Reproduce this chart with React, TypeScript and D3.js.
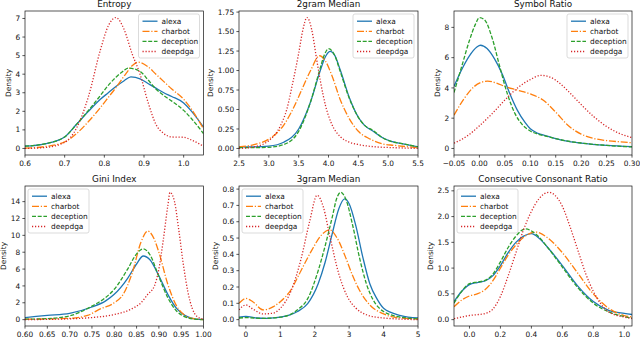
import * as d3 from "d3";

type Pt = [number, number];

const seriesNames = ["alexa", "charbot", "deception", "deepdga"];
const seriesColors = ["#1f77b4", "#ff7f0e", "#2ca02c", "#d62728"];
const seriesDashes = ["", "7,1.8,1.2,1.8", "4,1.7", "1.2,1.8"];

const panelTitles = [
  "Entropy",
  "2gram Median",
  "Symbol Ratio",
  "Gini Index",
  "3gram Median",
  "Consecutive Consonant Ratio",
];

const panelXDomains: Pt[] = [
  [0.6, 1.05],
  [2.5, 5.5],
  [-0.05, 0.3],
  [0.6, 1.0],
  [-0.2, 5],
  [-0.1, 1.05],
];
const panelXTicks = [
  [0.6, 0.7, 0.8, 0.9, 1.0],
  [2.5, 3.0, 3.5, 4.0, 4.5, 5.0, 5.5],
  [-0.05, 0.0, 0.05, 0.1, 0.15, 0.2, 0.25, 0.3],
  [0.6, 0.65, 0.7, 0.75, 0.8, 0.85, 0.9, 0.95, 1.0],
  [0, 1, 2, 3, 4, 5],
  [0.0, 0.2, 0.4, 0.6, 0.8, 1.0],
];
const panelXFormats = [".1f", ".1f", ".2f", ".2f", "d", ".1f"];
const panelYTicks = [
  [0, 1, 2, 3, 4, 5, 6, 7],
  [0, 0.25, 0.5, 0.75, 1.0, 1.25, 1.5, 1.75],
  [0, 2, 4, 6, 8],
  [0, 2, 4, 6, 8, 10, 12, 14],
  [0, 0.1, 0.2, 0.3, 0.4, 0.5, 0.6, 0.7, 0.8],
  [0, 0.5, 1.0, 1.5, 2.0, 2.5],
];
const panelYFormats = ["d", ".2f", "d", "d", ".1f", ".1f"];

// Entropy
const entropyAlexa: Pt[] = [[0.6, 0.12], [0.65, 0.25], [0.7, 0.62], [0.73, 1.3], [0.76, 2.0], [0.79, 2.65], [0.81, 3.0], [0.83, 3.35], [0.85, 3.65], [0.867, 3.85], [0.89, 3.75], [0.91, 3.5], [0.93, 3.25], [0.95, 3.0], [0.97, 2.8], [1.0, 2.45], [1.02, 2.0], [1.05, 1.15]];
const entropyCharbot: Pt[] = [[0.6, 0.02], [0.65, 0.1], [0.7, 0.35], [0.73, 0.8], [0.76, 1.45], [0.79, 2.2], [0.81, 2.75], [0.83, 3.3], [0.85, 3.9], [0.87, 4.45], [0.885, 4.65], [0.91, 4.4], [0.93, 4.0], [0.95, 3.6], [0.97, 3.2], [1.0, 2.65], [1.02, 2.1], [1.05, 1.05]];
const entropyDeception: Pt[] = [[0.6, 0.12], [0.65, 0.25], [0.7, 0.62], [0.73, 1.3], [0.76, 2.05], [0.79, 2.85], [0.81, 3.4], [0.83, 3.85], [0.85, 4.2], [0.86, 4.33], [0.89, 4.15], [0.91, 3.7], [0.93, 3.2], [0.95, 2.85], [0.97, 2.55], [1.0, 2.05], [1.02, 1.6], [1.05, 0.8]];
const entropyDeepdga: Pt[] = [[0.6, 0.0], [0.65, 0.05], [0.7, 0.33], [0.73, 1.1], [0.76, 2.8], [0.79, 5.3], [0.81, 6.6], [0.829, 7.05], [0.85, 6.4], [0.87, 5.1], [0.89, 4.0], [0.91, 2.5], [0.93, 1.3], [0.95, 0.8], [0.97, 0.62], [1.0, 0.6], [1.02, 0.45], [1.05, 0.12]];

// 2gram Median
const bigramAlexa: Pt[] = [[2.5, 0.02], [2.75, 0.02], [3.0, 0.03], [3.25, 0.08], [3.5, 0.25], [3.7, 0.6], [3.85, 0.97], [3.95, 1.18], [4.03, 1.245], [4.1, 1.2], [4.2, 1.0], [4.35, 0.65], [4.5, 0.4], [4.6, 0.3], [4.75, 0.22], [4.9, 0.14], [5.05, 0.09], [5.25, 0.06], [5.5, 0.02]];
const bigramCharbot: Pt[] = [[2.5, 0.02], [2.75, 0.05], [3.0, 0.12], [3.25, 0.3], [3.4, 0.5], [3.55, 0.75], [3.7, 1.0], [3.85, 1.19], [3.95, 1.12], [4.05, 0.95], [4.2, 0.62], [4.35, 0.38], [4.5, 0.22], [4.7, 0.12], [4.9, 0.06], [5.1, 0.04], [5.5, 0.01]];
const bigramDeception: Pt[] = [[2.5, 0.01], [2.75, 0.01], [3.0, 0.015], [3.25, 0.05], [3.5, 0.22], [3.7, 0.6], [3.85, 1.0], [3.93, 1.2], [4.0, 1.28], [4.1, 1.2], [4.2, 0.98], [4.35, 0.64], [4.5, 0.4], [4.6, 0.3], [4.75, 0.23], [4.9, 0.14], [5.05, 0.09], [5.25, 0.06], [5.5, 0.02]];
const bigramDeepdga: Pt[] = [[2.5, 0.0], [2.75, 0.02], [3.0, 0.1], [3.2, 0.3], [3.3, 0.5], [3.4, 0.84], [3.5, 1.22], [3.57, 1.52], [3.64, 1.68], [3.72, 1.52], [3.8, 1.15], [3.87, 0.84], [3.95, 0.55], [4.05, 0.32], [4.2, 0.15], [4.35, 0.08], [4.5, 0.05], [4.8, 0.02], [5.1, 0.01], [5.5, 0.0]];

// Symbol Ratio
const symbolAlexa: Pt[] = [[-0.05, 4.1], [-0.035, 5.2], [-0.02, 6.1], [-0.005, 6.7], [0.002, 6.82], [0.015, 6.6], [0.03, 5.9], [0.045, 4.9], [0.06, 3.6], [0.075, 2.5], [0.09, 1.7], [0.1, 1.3], [0.115, 1.0], [0.13, 0.85], [0.15, 0.65], [0.175, 0.47], [0.2, 0.35], [0.25, 0.2], [0.3, 0.12]];
const symbolCharbot: Pt[] = [[-0.05, 2.2], [-0.03, 3.3], [-0.01, 4.1], [0.016, 4.45], [0.035, 4.3], [0.05, 4.1], [0.075, 3.85], [0.1, 3.6], [0.125, 3.2], [0.15, 2.4], [0.175, 1.5], [0.2, 0.95], [0.225, 0.66], [0.25, 0.52], [0.275, 0.44], [0.3, 0.38]];
const symbolDeception: Pt[] = [[-0.05, 3.7], [-0.035, 5.4], [-0.02, 7.1], [-0.008, 8.2], [0.0, 8.65], [0.01, 8.5], [0.025, 7.3], [0.04, 5.4], [0.055, 3.6], [0.07, 2.3], [0.085, 1.55], [0.1, 1.15], [0.115, 0.95], [0.13, 0.82], [0.15, 0.65], [0.175, 0.48], [0.2, 0.36], [0.25, 0.2], [0.3, 0.1]];
const symbolDeepdga: Pt[] = [[-0.05, 0.35], [-0.025, 0.8], [0.0, 1.5], [0.025, 2.3], [0.05, 3.2], [0.075, 4.0], [0.1, 4.55], [0.121, 4.83], [0.14, 4.7], [0.16, 4.25], [0.18, 3.6], [0.2, 2.9], [0.225, 2.1], [0.25, 1.45], [0.275, 1.0], [0.3, 0.72]];

// Gini Index
const giniAlexa: Pt[] = [[0.6, 0.25], [0.65, 0.5], [0.7, 0.75], [0.75, 1.5], [0.78, 2.2], [0.8, 3.0], [0.83, 4.9], [0.85, 6.6], [0.865, 7.55], [0.88, 7.1], [0.9, 5.2], [0.92, 3.0], [0.94, 1.3], [0.96, 0.45], [0.98, 0.1], [1.0, 0.02]];
const giniCharbot: Pt[] = [[0.6, 0.05], [0.7, 0.15], [0.74, 0.5], [0.77, 1.3], [0.8, 2.0], [0.82, 3.0], [0.84, 5.5], [0.86, 9.2], [0.875, 10.5], [0.89, 9.5], [0.9, 8.0], [0.92, 4.2], [0.94, 1.6], [0.96, 0.45], [0.98, 0.1], [1.0, 0.0]];
const giniDeception: Pt[] = [[0.6, 0.05], [0.65, 0.12], [0.7, 0.45], [0.75, 1.6], [0.78, 2.6], [0.8, 3.6], [0.83, 6.0], [0.85, 7.8], [0.865, 8.4], [0.88, 7.7], [0.9, 5.1], [0.92, 2.6], [0.94, 1.0], [0.96, 0.3], [0.98, 0.05], [1.0, 0.0]];
const giniDeepdga: Pt[] = [[0.6, 0.0], [0.7, 0.1], [0.75, 0.25], [0.8, 0.6], [0.84, 1.3], [0.86, 2.0], [0.875, 3.0], [0.89, 4.0], [0.9, 6.0], [0.91, 9.5], [0.92, 13.5], [0.925, 15.1], [0.935, 14.0], [0.945, 10.5], [0.955, 6.5], [0.965, 3.3], [0.975, 1.3], [0.985, 0.4], [1.0, 0.05]];

// 3gram Median
const trigramAlexa: Pt[] = [[-0.2, 0.015], [0, 0.02], [0.3, 0.01], [0.6, 0.008], [1.0, 0.015], [1.5, 0.05], [1.8, 0.1], [2.1, 0.22], [2.3, 0.35], [2.5, 0.52], [2.7, 0.68], [2.87, 0.74], [3.0, 0.71], [3.2, 0.57], [3.4, 0.38], [3.6, 0.22], [3.8, 0.13], [4.0, 0.07], [4.5, 0.025], [5.0, 0.01]];
const trigramCharbot: Pt[] = [[-0.2, 0.1], [0, 0.13], [0.2, 0.11], [0.5, 0.06], [0.8, 0.08], [1.0, 0.11], [1.3, 0.18], [1.6, 0.3], [1.9, 0.42], [2.2, 0.52], [2.44, 0.55], [2.65, 0.5], [2.9, 0.38], [3.1, 0.27], [3.3, 0.18], [3.6, 0.09], [4.0, 0.035], [4.5, 0.01], [5.0, 0.005]];
const trigramDeception: Pt[] = [[-0.2, 0.01], [0, 0.012], [0.5, 0.008], [1.0, 0.015], [1.5, 0.06], [1.8, 0.13], [2.1, 0.3], [2.3, 0.45], [2.5, 0.62], [2.65, 0.75], [2.75, 0.78], [2.9, 0.74], [3.1, 0.58], [3.3, 0.38], [3.5, 0.22], [3.7, 0.12], [4.0, 0.05], [4.5, 0.015], [5.0, 0.005]];
const trigramDeepdga: Pt[] = [[-0.2, 0.06], [0, 0.09], [0.2, 0.065], [0.5, 0.035], [0.8, 0.04], [1.0, 0.07], [1.3, 0.17], [1.6, 0.37], [1.85, 0.6], [2.07, 0.762], [2.25, 0.69], [2.45, 0.5], [2.7, 0.28], [2.95, 0.14], [3.2, 0.07], [3.5, 0.03], [4.0, 0.01], [5.0, 0.0]];

// Consecutive Consonant Ratio
const consonantAlexa: Pt[] = [[-0.1, 0.35], [-0.05, 0.55], [0.0, 0.68], [0.05, 0.72], [0.1, 0.75], [0.15, 0.85], [0.2, 1.05], [0.25, 1.3], [0.3, 1.5], [0.35, 1.62], [0.4, 1.67], [0.45, 1.58], [0.5, 1.42], [0.6, 1.05], [0.7, 0.65], [0.8, 0.35], [0.9, 0.18], [1.0, 0.12], [1.05, 0.1]];
const consonantCharbot: Pt[] = [[-0.1, 0.25], [-0.05, 0.38], [0.0, 0.46], [0.05, 0.5], [0.1, 0.58], [0.15, 0.75], [0.2, 1.0], [0.25, 1.25], [0.3, 1.45], [0.35, 1.6], [0.43, 1.7], [0.5, 1.6], [0.6, 1.3], [0.7, 0.9], [0.8, 0.5], [0.9, 0.22], [1.0, 0.08], [1.05, 0.05]];
const consonantDeception: Pt[] = [[-0.1, 0.32], [-0.05, 0.55], [0.0, 0.7], [0.05, 0.73], [0.1, 0.76], [0.15, 0.88], [0.2, 1.12], [0.25, 1.4], [0.3, 1.62], [0.36, 1.76], [0.45, 1.6], [0.5, 1.42], [0.6, 1.02], [0.7, 0.62], [0.8, 0.32], [0.9, 0.15], [1.0, 0.06], [1.05, 0.03]];
const consonantDeepdga: Pt[] = [[-0.1, 0.02], [-0.05, 0.05], [0.0, 0.08], [0.1, 0.12], [0.15, 0.2], [0.2, 0.45], [0.25, 0.85], [0.3, 1.3], [0.35, 1.75], [0.4, 2.1], [0.45, 2.35], [0.514, 2.47], [0.55, 2.42], [0.6, 2.2], [0.65, 1.8], [0.7, 1.35], [0.75, 0.9], [0.8, 0.55], [0.85, 0.3], [0.9, 0.15], [1.0, 0.05], [1.05, 0.02]];

const panelSeries: Pt[][][] = [
  [entropyAlexa, entropyCharbot, entropyDeception, entropyDeepdga],
  [bigramAlexa, bigramCharbot, bigramDeception, bigramDeepdga],
  [symbolAlexa, symbolCharbot, symbolDeception, symbolDeepdga],
  [giniAlexa, giniCharbot, giniDeception, giniDeepdga],
  [trigramAlexa, trigramCharbot, trigramDeception, trigramDeepdga],
  [consonantAlexa, consonantCharbot, consonantDeception, consonantDeepdga],
];

const WIDTH = 640;
const HEIGHT = 338;
const COLS: Pt[] = [[25, 203.5], [239, 418], [454, 632]];
const ROWS: Pt[] = [[11, 155], [186, 326]];
const FONT = "DejaVu Sans, sans-serif";
const TICK_FS = 7.4;
const TITLE_FS = 8.8;
const INK = "#111";
const LINE_W = 1.3;

function labelWidth(s: string) {
  let w = 0;
  for (const ch of s) {
    w += ch === "." ? 0.318 : ch === "\u2212" ? 0.838 : 0.636;
  }
  return w * TICK_FS;
}

function Panel({ idx }: { idx: number }) {
  const [x0, x1] = COLS[idx % 3];
  const [y0, y1] = ROWS[Math.floor(idx / 3)];
  const series = panelSeries[idx];
  const ymax = d3.max(series.flat(), (d) => d[1]) ?? 1;

  const xScale = d3.scaleLinear().domain(panelXDomains[idx]).range([x0, x1]);
  const yScale = d3
    .scaleLinear()
    .domain([-0.05 * ymax, 1.05 * ymax])
    .range([y1, y0]);

  const gen = d3
    .line<Pt>()
    .x((d) => xScale(d[0]))
    .y((d) => yScale(d[1]))
    .curve(d3.curveMonotoneX);

  const fx = d3.format(panelXFormats[idx]);
  const fy = d3.format(panelYFormats[idx]);
  const yLabels = panelYTicks[idx].map((v) => fy(v));
  const maxW = d3.max(yLabels, labelWidth) ?? 0;
  const ylabX = x0 - 5 - maxW - 7;

  const legendW = 61;
  const legendH = 44;
  const onRight = idx < 3;
  const lx = onRight ? x1 - 4 - legendW : x0 + 3;
  const ly = y0 + 3;
  const clipId = `clip-${idx}`;

  return (
    <g>
      <defs>
        <clipPath id={clipId}>
          <rect x={x0} y={y0} width={x1 - x0} height={y1 - y0} />
        </clipPath>
      </defs>
      <g clipPath={`url(#${clipId})`}>
        {series.map((pts, i) => (
          <path
            key={seriesNames[i]}
            d={gen(pts) ?? ""}
            fill="none"
            stroke={seriesColors[i]}
            strokeWidth={LINE_W}
            strokeDasharray={seriesDashes[i] || undefined}
          />
        ))}
      </g>
      <rect x={x0} y={y0} width={x1 - x0} height={y1 - y0} fill="none" stroke={INK} strokeWidth={0.7} />

      {panelXTicks[idx].map((v) => (
        <g key={`x${v}`} transform={`translate(${xScale(v)},${y1})`}>
          <line y2={2.6} stroke={INK} strokeWidth={0.7} />
          <text y={11.2} textAnchor="middle" fontSize={TICK_FS} fontFamily={FONT} fill={INK}>
            {fx(v)}
          </text>
        </g>
      ))}
      {panelYTicks[idx].map((v, i) => (
        <g key={`y${v}`} transform={`translate(${x0},${yScale(v)})`}>
          <line x2={-2.6} stroke={INK} strokeWidth={0.7} />
          <text x={-4.8} dy="0.35em" textAnchor="end" fontSize={TICK_FS} fontFamily={FONT} fill={INK}>
            {yLabels[i]}
          </text>
        </g>
      ))}

      <text
        transform={`translate(${ylabX},${(y0 + y1) / 2}) rotate(-90)`}
        textAnchor="middle"
        dy="0.35em"
        fontSize={TICK_FS}
        fontFamily={FONT}
        fill={INK}
      >
        Density
      </text>
      <text x={(x0 + x1) / 2} y={y0 - 4} textAnchor="middle" fontSize={TITLE_FS} fontFamily={FONT} fill={INK}>
        {panelTitles[idx]}
      </text>

      <rect x={lx} y={ly} width={legendW} height={legendH} rx={2} fill="#fff" fillOpacity={0.85} stroke="#ccc" strokeWidth={0.7} />
      {seriesNames.map((name, i) => {
        const cy = ly + 7.2 + i * 10.1;
        return (
          <g key={name}>
            <line
              x1={lx + 4}
              x2={lx + 19}
              y1={cy}
              y2={cy}
              stroke={seriesColors[i]}
              strokeWidth={LINE_W}
              strokeDasharray={seriesDashes[i] || undefined}
            />
            <text x={lx + 23} y={cy} dy="0.35em" fontSize={TICK_FS} fontFamily={FONT} fill={INK}>
              {name}
            </text>
          </g>
        );
      })}
    </g>
  );
}

export default function App() {
  return (
    <svg
      width={WIDTH}
      height={HEIGHT}
      viewBox={`0 0 ${WIDTH} ${HEIGHT}`}
      style={{ position: "absolute", left: 0, top: 0, background: "#fff" }}
    >
      {panelTitles.map((t, i) => (
        <Panel key={t} idx={i} />
      ))}
    </svg>
  );
}
